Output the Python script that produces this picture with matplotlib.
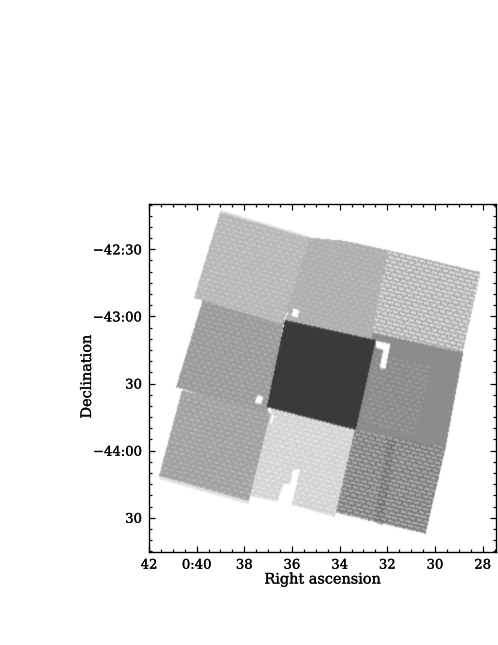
import numpy as np
import matplotlib
matplotlib.use('Agg')
import matplotlib.pyplot as plt
import matplotlib.patheffects as pe
from matplotlib.path import Path
from matplotlib.ticker import MultipleLocator, FixedLocator

# campos: (RA en minutos de 0h, Dec en grados)
top_left = [(39.03, -42.22), (35.25, -42.42), (36.43, -43.06), (40.13, -42.86)]
top_mid = [(35.4, -42.41), (33.78, -42.436), (31.97, -42.505), (32.65, -43.139), (32.6, -43.2), (36.5, -43.04)]
top_right = [(31.97, -42.505), (28.07, -42.669), (28.87, -43.31), (32.65, -43.139)]
mid_left = [(39.71, -42.848), (36.30, -43.0), (37.06, -43.74), (40.88, -43.526)]
mid_right = [(32.6, -43.12), (28.8, -43.27), (29.54, -43.98), (33.36, -43.846)]
mid_right_core = [(32.39, -43.265), (30.13, -43.362), (30.84, -43.891), (33.07, -43.772)]
low_left = [(40.63, -43.548), (36.85, -43.725), (37.82, -44.376), (41.60, -44.189)]
low_left_edge = [(41.60, -44.189), (37.82, -44.376), (37.82, -44.40), (41.55, -44.215)]
top_left_edge = [(39.03, -42.22), (35.25, -42.42), (35.25, -42.405), (39.0, -42.205)]
low_mid = [(36.85, -43.68), (33.36, -43.846), (34.20, -44.495), (36.02, -44.405), (35.67, -44.145),
           (35.95, -44.145), (36.09, -44.249), (36.37, -44.249), (36.61, -44.381), (37.77, -44.338)]
low_right = [(33.36, -43.846), (29.54, -43.98), (30.38, -44.621), (34.16, -44.464)]
low_right_band = [(32.0, -43.906), (31.65, -43.928), (32.2, -44.554), (32.55, -44.532)]
center = [(36.30, -43.027), (32.48, -43.176), (33.32, -43.846), (37.06, -43.675)]

fields = [low_left_edge, top_left_edge, mid_left, top_mid, top_left, top_right, mid_right, mid_right_core,
          low_left, low_mid, low_right, low_right_band, center]
grey = [0.88, 0.88, 0.61, 0.69, 0.72, 0.68, 0.55, 0.55, 0.64, 0.83, 0.49, 0.44, 0.23]
dash = [0.0, 0.0, 0.12, 0.08, 0.10, 0.20, 0.0, 0.11, 0.12, 0.10, 0.20, 0.20, 0.0]
dense = [False, False, False, False, False, True, False, False, False, False, True, True, False]

# huecos sin cobertura
holes = [
    [(35.95, -42.94), (35.70, -42.952), (35.77, -43.007), (36.01, -42.997)],
    [(37.47, -43.586), (37.21, -43.598), (37.31, -43.655), (37.56, -43.643)],
    [(32.45, -43.181), (31.86, -43.206), (32.07, -43.392), (32.31, -43.382), (32.17, -43.25), (32.48, -43.23)],
    [(36.76, -43.735), (36.85, -43.735), (36.93, -43.802), (36.85, -43.802)],
    [(36.22, -42.967), (36.16, -42.967), (36.30, -43.027), (36.34, -43.027)],
]

xticks = [42, 40, 38, 36, 34, 32, 30, 28]
xlabels = ['42', '0:40', '38', '36', '34', '32', '30', '28']
yticks = [-42.5, -43.0, -43.5, -44.0, -44.5]
ylabels = ['\u221242:30', '\u221243:00', '30', '\u221244:00', '30']

ra_left, ra_right = 42.0, 27.44
dec_top, dec_bot = -42.165, -44.753

plt.rcParams['font.family'] = ['DejaVu Serif']


def trazos(u, v, per_u, per_v, largo, alto):
    # ladrillos de trazos claros, cada fila desplazada media vuelta
    fila = np.floor(v / per_v)
    return (((u + fila * per_u / 2) % per_u) < largo) & ((v % per_v) < alto)


def suavizar(a):
    k = np.array([0.15, 0.7, 0.15])
    a = np.apply_along_axis(lambda c: np.convolve(c, k, mode='same'), 0, a)
    return np.apply_along_axis(lambda c: np.convolve(c, k, mode='same'), 1, a)


fig = plt.figure(figsize=(4.98, 6.45), dpi=100)
ax = fig.add_axes([149 / 498, 1 - 551.7 / 645, 347 / 498, 347.4 / 645])

# imagen de exposicion, un valor por pixel de los ejes
n = 347
ra = np.linspace(ra_left, ra_right, n)
dec = np.linspace(dec_top, dec_bot, n)
rr, dd = np.meshgrid(ra, dec)
pts = np.column_stack([rr.ravel(), dd.ravel()])

px = (ra_left - rr) * 23.8
py = (dec_top - dd) * 134.2
ang = np.radians(14)
u = px * np.cos(ang) + py * np.sin(ang)
v = -px * np.sin(ang) + py * np.cos(ang)
patron_fino = trazos(u, v, 7.0, 4.5, 4.0, 1.0)
patron_denso = trazos(u, v, 7.0, 4.0, 5.5, 2.0)

img = np.ones((n, n))
for poly, g, d, den in zip(fields, grey, dash, dense):
    mask = Path(poly).contains_points(pts).reshape(n, n)
    patron = patron_denso if den else patron_fino
    img[mask] = (g + d * patron)[mask]
for poly in holes:
    mask = Path(poly).contains_points(pts).reshape(n, n)
    img[mask] = 1.0
img = np.clip(suavizar(np.pad(img, 2, constant_values=1.0))[2:-2, 2:-2], 0, 1)

ax.imshow(img, cmap='gray', vmin=0, vmax=1, extent=[ra_left, ra_right, dec_bot, dec_top],
          aspect='auto', interpolation='bilinear')

ax.set_xlim(ra_left, ra_right)
ax.set_ylim(dec_bot, dec_top)
ax.xaxis.set_major_locator(FixedLocator(xticks))
ax.xaxis.set_minor_locator(MultipleLocator(0.5))
ax.yaxis.set_major_locator(FixedLocator(yticks))
ax.yaxis.set_minor_locator(MultipleLocator(1 / 12))
ax.set_xticklabels(xlabels)
ax.set_yticklabels(ylabels)
ax.tick_params(which='major', direction='in', length=4.5, width=0.9, top=True, right=True,
               labelsize=9.5, pad=5)
ax.tick_params(which='minor', direction='in', length=2.2, width=0.9, top=True, right=True)
for s in ax.spines.values():
    s.set_linewidth(1.0)

grueso = [pe.withStroke(linewidth=0.2, foreground='black')]
for t in ax.get_xticklabels() + ax.get_yticklabels():
    t.set_path_effects(grueso)
fig.text(322 / 498, 1 - 579.5 / 645, 'Right ascension', ha='center', va='center', fontsize=10.4,
         path_effects=grueso)
fig.text(87 / 498, 1 - 377 / 645, 'Declination', ha='center', va='center', rotation=90, fontsize=10.4,
         path_effects=grueso)

plt.savefig('out.png', dpi=100)
